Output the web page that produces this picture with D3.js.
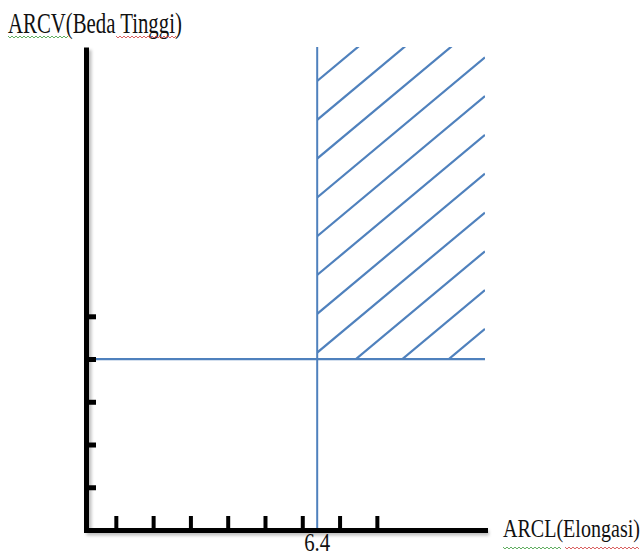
<!DOCTYPE html>
<html>
<head>
<meta charset="utf-8">
<script src="https://cdn.jsdelivr.net/npm/d3@7"></script>
<style>
  body { margin: 0; background: #fff; }
  text { font-family: "Liberation Serif", "Times New Roman", serif; fill: #111; }
</style>
</head>
<body>
<svg id="chart"></svg>
<script>
// values
var xTicks = [1, 2, 3, 4, 5, 6, 7, 8];
var yTicks = [1, 2, 3, 4, 5];
var xThreshold = 6.4;
var yThreshold = 4;
var xLabels = ["6.4"];
var xTitle = "ARCL(Elongasi)";
var yTitle = "ARCV(Beda Tinggi)";

var W = 644, H = 556;
var blue = "#4f81bd";

var svg = d3.select("#chart").attr("width", W).attr("height", H);

var x = d3.scaleLinear().domain([0.2, 10.9]).range([86, 485]);
var y = d3.scaleLinear().domain([0, 11.3]).range([530, 47]);

var xMax = x.domain()[1], yMax = y.domain()[1];

// soft shadow of the axes
var defs = svg.append("defs");
defs.append("filter").attr("id", "blur")
  .append("feGaussianBlur").attr("stdDeviation", 1.5);

svg.append("path")
  .attr("d", `M${x(0.2) + 3},${y(yMax) + 3}V${y(0) + 3}H${x(xMax) + 4}`)
  .attr("fill", "none").attr("stroke", "#000").attr("stroke-opacity", 0.25)
  .attr("stroke-width", 5).attr("filter", "url(#blur)");

// hatched area (x > 6.4, y > 4)
defs.append("clipPath").attr("id", "hatchClip")
  .append("rect")
  .attr("x", x(xThreshold)).attr("y", y(yMax))
  .attr("width", x(xMax) - x(xThreshold))
  .attr("height", y(yThreshold) - y(yMax));

var x0 = x(xThreshold), x1 = x(xMax), slope = 0.835;
var offsets = d3.range(-1, 13).map(k => y(yMax) + 34 + k * 38.8);

svg.append("g").attr("clip-path", "url(#hatchClip)")
  .selectAll("line").data(offsets).join("line")
  .attr("x1", x0).attr("y1", d => d)
  .attr("x2", x1).attr("y2", d => d - slope * (x1 - x0))
  .attr("stroke", blue).attr("stroke-width", 2.2);

// threshold lines
svg.append("line")
  .attr("x1", x(xThreshold)).attr("x2", x(xThreshold))
  .attr("y1", y(yMax)).attr("y2", y(0))
  .attr("stroke", blue).attr("stroke-width", 2);

svg.append("line")
  .attr("x1", x(0.2)).attr("x2", x(xMax))
  .attr("y1", y(yThreshold)).attr("y2", y(yThreshold))
  .attr("stroke", blue).attr("stroke-width", 2.2);

// axes
var yAxis = svg.append("g")
  .attr("transform", `translate(${x(0.2)},0)`)
  .call(d3.axisRight(y).tickValues(yTicks).tickSize(10).tickSizeOuter(0).tickFormat(""));
yAxis.select(".domain").attr("stroke-width", 5).attr("stroke-linecap", "butt");
yAxis.selectAll(".tick line").attr("stroke-width", 5);

var xAxis = svg.append("g")
  .attr("transform", `translate(0,${y(0)})`)
  .call(d3.axisTop(x).tickValues(xTicks).tickSize(14).tickSizeOuter(0).tickFormat(""));
xAxis.select(".domain").attr("stroke-width", 5).attr("stroke-linecap", "square");
xAxis.selectAll(".tick line").attr("stroke-width", 4);

// narrow text: squeeze horizontally to the width seen in the picture
function narrowText(str, px, py, size, width, anchor) {
  var t = svg.append("text")
    .attr("font-size", size)
    .text(str);
  var natural = t.node().getComputedTextLength();
  var sx = width / natural;
  var left = anchor === "middle" ? px - width / 2 : px;
  t.attr("transform", `translate(${left},${py}) scale(${sx},1)`);
  return t;
}

// threshold label
xLabels.forEach(d => narrowText(d, x(xThreshold), 551, 26, 26, "middle"));

// titles
narrowText(yTitle, 8, 33, 29, 174);
narrowText(xTitle, 503, 537, 26, 137);

// spell-check squiggles under the titles
function squiggle(xa, xb, yy, color) {
  var pts = d3.range(xa, xb, 2).map((v, i) => [v, yy + (i % 2 ? 1 : -1)]);
  svg.append("path")
    .attr("d", d3.line()(pts))
    .attr("fill", "none").attr("stroke", color).attr("stroke-width", 0.8);
}
squiggle(8, 70, 37, "#3a9a3a");
squiggle(116, 178, 37, "#d03a3a");
squiggle(503, 562, 548, "#3a9a3a");
squiggle(565, 640, 548, "#d03a3a");
</script>
</body>
</html>
